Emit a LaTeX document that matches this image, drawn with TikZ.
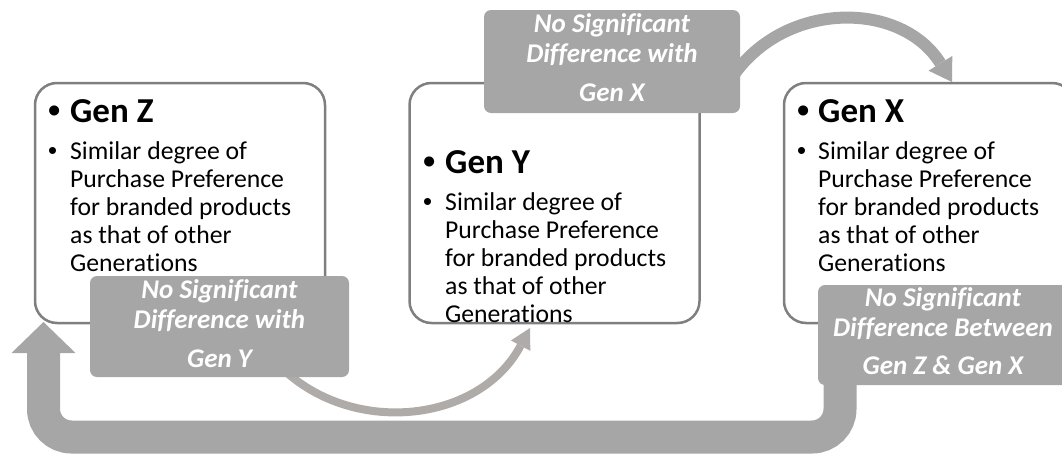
\documentclass[tikz,border=0pt]{standalone}
\usepackage{fontspec}
\setmainfont{Carlito}[Ligatures=NoCommon]
\newfontfamily\bulletfont{Liberation Sans}
\usetikzlibrary{arrows.meta}

\definecolor{boxline}{HTML}{7F7F7F}
\definecolor{lblgrey}{HTML}{A6A6A6}
\definecolor{arcgrey}{HTML}{AFABA9}

\newcommand{\genlines}[2][22pt]{\parbox[t]{260pt}{\raggedright\leftskip=#1
  \noindent\llap{\makebox[#1][l]{\bulletfont •}}#2}}

\begin{document}
\begin{tikzpicture}
    [x=1pt,y=1pt,
    genbox/.style={rectangle,rounded corners=22pt,draw=boxline,line width=2.5pt,fill=white,
      minimum width=290pt,minimum height=240pt,inner sep=0pt},
    lblbox/.style={rectangle,rounded corners=7pt,fill=lblgrey,inner sep=0pt,
      minimum width=256pt,minimum height=101pt},
    lbltext/.style={text=white,font=\fontsize{27}{30}\selectfont\bfseries\itshape,
      align=center,inner sep=0pt,anchor=base},
    heading/.style={font=\fontsize{35}{40}\selectfont\bfseries,inner sep=0pt,anchor=base west},
    bodytext/.style={font=\fontsize{25.7}{28}\selectfont,inner sep=0pt,anchor=base west},
    thinarc/.style={draw=arcgrey,line width=8pt,
      -{Triangle[width=22pt,length=20pt,line width=0pt]}},
    widearc/.style={draw=lblgrey,line width=12pt,
      -{Triangle[width=28pt,length=22pt,line width=0pt]}},
    loop arrow/.style={draw=lblgrey,line width=33pt,rounded corners=28pt,
      -{Triangle[width=64pt,length=31pt,line width=0pt]}}]

    \useasboundingbox (0,0) rectangle (1062,-455);

    \node[genbox] (gen z) at (180,-203) {};
    \node[genbox] (gen y) at (554.5,-203) {};
    \node[genbox] (gen x) at (929,-203) {};

    \node[heading]  (z head) at (48,-122) {\makebox[22pt][l]{\bulletfont •}Gen Z};
    \node[bodytext] (z body) at (48,-159) {\genlines{Similar degree of\\Purchase Preference\\
      for branded products\\as that of other\\Generations}};

    \node[heading]  (y head) at (423,-173) {\makebox[22pt][l]{\bulletfont •}Gen Y};
    \node[bodytext] (y body) at (423,-210) {\genlines{Similar degree of\\Purchase Preference\\
      for branded products\\as that of other\\Generations}};

    \node[heading]  (x head) at (797,-122) {\makebox[21pt][l]{\bulletfont •}Gen X};
    \node[bodytext] (x body) at (797,-159) {\genlines[21pt]{Similar degree of\\Purchase Preference\\
      for branded products\\as that of other\\Generations}};

    \coordinate (zy tail) at (262,-345);
    \coordinate (y tip)   at (530,-328);
    \coordinate (yx tail) at (727,-85.5);
    \coordinate (x tip)   at (952,-82);
    \coordinate (x tail)  at (840,-360);
    \coordinate (z tip)   at (43.5,-322);

    \draw[thinarc] (zy tail) to[out=-55,in=-118,looseness=1.1] (y tip);
    \draw[widearc] (yx tail) to[out=60,in=121.8,looseness=1.12] (x tip);
    \draw[loop arrow] (x tail) |- (43.5,-437) -- (z tip);

    \node[lblbox,minimum width=259pt] (zy) at (219.5,-326.5) {};
    \node[lblbox,minimum height=103pt] (yx) at (612,-61.5) {};
    \node[lblbox,minimum width=250pt,minimum height=100pt] (xz) at (943,-335) {};

    \node[lbltext] (zy text) at ([yshift=-91.5pt]zy.north)
      {No Significant\\Difference with\\[9pt]Gen Y};
    \node[lbltext] (yx text) at ([yshift=-92pt]yx.north)
      {No Significant\\Difference with\\[9pt]Gen X};
    \node[lbltext] (xz text) at ([yshift=-90pt]xz.north)
      {No Significant\\Difference Between\\[8pt]Gen Z \& Gen X};

  \end{tikzpicture}
\end{document}
